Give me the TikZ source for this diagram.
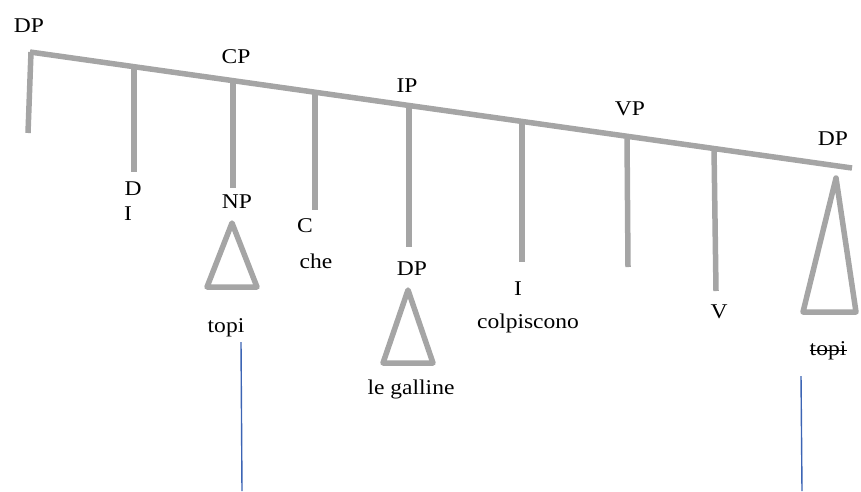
\documentclass[tikz,border=0pt]{standalone}
\usepackage{fontspec}
\setmainfont{Liberation Serif}[FakeStretch=1.12]
\definecolor{branch}{RGB}{165,165,165}
\definecolor{linkblue}{RGB}{60,100,180}
\begin{document}
\begin{tikzpicture}[x=1pt,y=-1pt,
  lbl/.style={inner sep=0pt,anchor=base,font=\fontsize{21}{24}\selectfont},
  branchline/.style={draw=branch,line width=5.5pt},
  bluelink/.style={draw=linkblue,line width=1.4pt}]
\useasboundingbox (0,0) rectangle (861,491);
% main spine
\coordinate (s0) at (30,52);
\coordinate (s1) at (852,168);
\draw[branchline] (s0) -- (s1);
% stems
\coordinate (t0) at (31,52);   \coordinate (b0) at (28,133);
\coordinate (t1) at (134,67);  \coordinate (b1) at (134,172);
\coordinate (t2) at (233,81);  \coordinate (b2) at (233,188);
\coordinate (t3) at (315,92);  \coordinate (b3) at (315,210);
\coordinate (t4) at (409,105); \coordinate (b4) at (409,247);
\coordinate (t5) at (522,121); \coordinate (b5) at (522,262);
\coordinate (t6) at (627,136); \coordinate (b6) at (628,267);
\coordinate (t7) at (714,148); \coordinate (b7) at (716,291);
\foreach \i in {0,...,7}{\draw[branchline] (t\i) -- (b\i);}
% triangles
\coordinate (na) at (232,223); \coordinate (nl) at (207,287); \coordinate (nr) at (257,287);
\draw[branchline,line join=round] (na) -- (nl) -- (nr) -- cycle;
\coordinate (da) at (408,290); \coordinate (dl) at (383,363); \coordinate (dr) at (433,363);
\draw[branchline,line join=round] (da) -- (dl) -- (dr) -- cycle;
\coordinate (ra) at (836,178); \coordinate (rl) at (803,312); \coordinate (rr) at (856,312);
\draw[branchline,line join=round] (ra) -- (rl) -- (rr) -- cycle;
% labels
\node[lbl] (dp1) at (29,32) {DP};
\node[lbl] (cp) at (236,63) {CP};
\node[lbl] (ip) at (407,92) {IP};
\node[lbl] (vp) at (630,115) {VP};
\node[lbl] (dp4) at (833,145) {DP};
\node[lbl] (d) at (133,195) {D};
\node[lbl] (i1) at (128,220) {I};
\node[lbl] (np) at (237,208) {NP};
\node[lbl] (c) at (305,232) {C};
\node[lbl] (che) at (316,268) {che};
\node[lbl] (dp2) at (412,275) {DP};
\node[lbl] (topi1) at (226,332) {topi};
\node[lbl] (gall) at (411,394) {le galline};
\node[lbl] (i2) at (518,295) {I};
\node[lbl] (colp) at (528,328) {colpiscono};
\node[lbl] (v) at (719,318) {V};
\node[lbl] (topi2) at (828,355) {topi};
\draw[line width=1pt] ([yshift=5pt]topi2.base west) -- ([yshift=5pt]topi2.base east);
% blue links
\coordinate (l1t) at (241,342); \coordinate (l1b) at (242,491);
\coordinate (l2t) at (801,376); \coordinate (l2b) at (802,491);
\draw[bluelink] (l1t) -- (l1b);
\draw[bluelink] (l2t) -- (l2b);
\end{tikzpicture}
\end{document}
